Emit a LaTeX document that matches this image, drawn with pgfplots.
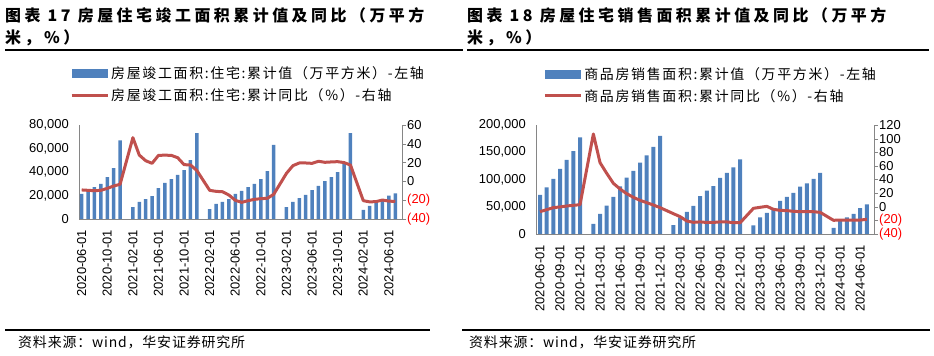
\documentclass[border=0pt]{standalone}
\usepackage{pgfplots}
\pgfplotsset{compat=1.18}
\usepackage{fontspec}
\setmainfont{Liberation Sans}
\newfontfamily\cjk{Noto Sans CJK SC}
\newfontfamily\cjkl{Noto Sans CJK SC}[LetterSpace=12]
\newfontfamily\cjks{Noto Sans CJK SC}[LetterSpace=6]
\definecolor{barblue}{RGB}{79,129,189}
\definecolor{linered}{RGB}{192,80,77}
\definecolor{axisgray}{RGB}{134,134,134}
\definecolor{negred}{RGB}{255,0,0}
\newcommand{\titlefont}{\cjk\bfseries\fontsize{16}{20}\selectfont\addfontfeatures{LetterSpace=22}}
\pgfplotsset{
  common/.style={
    scale only axis,
    axis line style={draw=axisgray,-},
    tick label style={font=\fontsize{13}{15}\selectfont},
    /pgf/number format/assume math mode=true,
    scaled y ticks=false, scaled x ticks=false,
    yticklabel style={inner sep=0pt},
  },
  barax/.style={common,
    axis x line*=bottom, axis y line*=left,
    ybar, ymin=0,
    xtick style={draw=none}, ytick style={draw=none},
    major tick length=0pt,
    xticklabel style={rotate=90,anchor=east,inner sep=0pt},
    xticklabel shift=11bp, yticklabel shift=10bp,
    legend style={draw=none, fill=none, inner sep=0pt,
      font=\cjkl\fontsize{14}{16}\selectfont, cells={anchor=west},
      row sep=4bp},
    legend cell align=left,
  },
  lineax/.style={common,
    axis x line=none, axis y line*=right,
    tick align=outside, major tick length=4bp,
    ytick style={draw=axisgray},
    yticklabel shift=1bp,
  },
  barimg/.style={legend image code/.code={\fill[barblue] (0bp,-4.5bp) rectangle (36bp,4.5bp);}},
  lineimg/.style={legend image code/.code={\draw[linered,line width=3bp] (0bp,0bp) -- (36bp,0bp);}},
}
\begin{document}
\begin{tikzpicture}
\useasboundingbox (0bp,0bp) rectangle (934bp,356bp);
% titles
\node[anchor=west,inner sep=0pt] at (5bp,341bp) {\titlefont 图表 17 房屋住宅竣工面积累计值及同比（万平方};
\node[anchor=west,inner sep=0pt] at (5bp,318bp) {\titlefont 米，\%）};
\node[anchor=west,inner sep=0pt] at (467bp,341bp) {\titlefont 图表 18 房屋住宅销售面积累计值及同比（万平方};
\node[anchor=west,inner sep=0pt] at (467bp,318bp) {\titlefont 米，\%）};
\draw[line width=1.2bp] (5bp,306bp) -- (463bp,306bp);
\draw[line width=1.2bp] (467bp,306bp) -- (929bp,306bp);
\draw[line width=1.2bp] (5bp,26bp) -- (430bp,26bp);
\draw[line width=1.2bp] (462bp,26bp) -- (930bp,26bp);
\node[anchor=west,inner sep=0pt] at (18bp,14bp) {\cjks\fontsize{14}{16}\selectfont 资料来源：wind，华安证券研究所};
\node[anchor=west,inner sep=0pt] at (469bp,14bp) {\cjks\fontsize{14}{16}\selectfont 资料来源：wind，华安证券研究所};

% ===== left panel =====
\begin{axis}[barax, at={(79bp,137bp)}, anchor=south west, width=323bp, height=94bp,
  xmin=-0.42, xmax=50.05, ymax=80000, bar width=3.5bp,
  xtick={0,4,...,48},
  xticklabels={2020-06-01,2020-10-01,2021-02-01,2021-06-01,2021-10-01,2022-02-01,2022-06-01,2022-10-01,2023-02-01,2023-06-01,2023-10-01,2024-02-01,2024-06-01},
  ytick={0,20000,40000,60000,80000},
  yticklabels={0,{20,000},{40,000},{60,000},{80,000}},
  legend style={at={(axis description cs:-0.028,1.64)}, anchor=north west},
]
\addplot[fill=barblue, draw=none, barimg] coordinates {
(0,21280) (1,24680) (2,27230) (3,29790) (4,35740) (5,43400) (6,66950)
(8,10210) (9,14470) (10,17020) (11,19570) (12,26380) (13,30640) (14,34040) (15,37450) (16,41700) (17,50210) (18,73190)
(20,8510) (21,12770) (22,14470) (23,17020) (24,21280) (25,23830) (26,27230) (27,29790) (28,34040) (29,40850) (30,62980)
(32,10210) (33,14470) (34,17870) (35,20430) (36,24680) (37,28090) (38,32340) (39,35740) (40,40000) (41,46810) (42,73190)
(44,7660) (45,11200) (46,14300) (47,16300) (48,19900) (49,21800)};
\addlegendentry{房屋竣工面积:住宅:累计值（万平方米）-左轴}
\addlegendimage{lineimg}
\addlegendentry{房屋竣工面积:住宅:累计同比（\%）-右轴}
\end{axis}
\begin{axis}[lineax, at={(79bp,137bp)}, anchor=south west, width=323bp, height=94bp,
  xmin=-0.42, xmax=50.05, ymin=-40, ymax=60,
  ytick={-40,-20,0,20,40,60},
  yticklabels={\textcolor{negred}{(40)},\textcolor{negred}{(20)},0,20,40,60},
]
\addplot[linered, line width=3bp, line join=round, mark=none] coordinates {
(0,-9.1) (1,-9.5) (2,-9.9) (3,-9.5) (4,-7.4) (5,-4.9) (6,-3.1)
(8,46.5) (9,28) (10,22) (11,19.2) (12,27.7) (13,27.9) (14,27.7) (15,25.2) (16,17.8) (17,17.5) (18,11.5)
(20,-9.5) (21,-10.6) (22,-11) (23,-14.5) (24,-20.1) (25,-22.3) (26,-20.5) (27,-19.1) (28,-18.4) (29,-18) (30,-13.8)
(32,8.6) (33,16.7) (34,19.6) (35,19.6) (36,19.2) (37,21.4) (38,20.3) (39,20.7) (40,21) (41,20) (42,17.4)
(44,-20.5) (45,-21.8) (46,-21.5) (47,-19.8) (48,-21) (49,-21.3)};
\end{axis}

% ===== right panel =====
\begin{axis}[barax, at={(536bp,122bp)}, anchor=south west, width=338bp, height=109bp,
  xmin=-0.6, xmax=50.07, ymax=200000, bar width=4bp,
  xtick={0,3,...,48},
  xticklabels={2020-06-01,2020-09-01,2020-12-01,2021-03-01,2021-06-01,2021-09-01,2021-12-01,2022-03-01,2022-06-01,2022-09-01,2022-12-01,2023-03-01,2023-06-01,2023-09-01,2023-12-01,2024-03-01,2024-06-01},
  ytick={0,50000,100000,150000,200000},
  yticklabels={0,{50,000},{100,000},{150,000},{200,000}},
  legend style={at={(axis description cs:0.021,1.545)}, anchor=north west},
]
\addplot[fill=barblue, draw=none, barimg] coordinates {
(0,71560) (1,85630) (2,100920) (3,119270) (4,135780) (5,152290) (6,177370)
(8,18350) (9,36700) (10,51990) (11,67890) (12,87460) (13,103360) (14,115600) (15,130890) (16,144340) (17,159630) (18,179820)
(20,16510) (21,30580) (22,40370) (23,51380) (24,69720) (25,79510) (26,88070) (27,102750) (28,111930) (29,122320) (30,137000)
(32,15900) (33,30580) (34,38530) (35,47700) (36,60550) (37,67890) (38,75230) (39,86850) (40,92970) (41,100920) (42,111930)
(44,11010) (45,24460) (46,30580) (47,36700) (48,47700) (49,54430)};
\addlegendentry{商品房销售面积:累计值（万平方米）-左轴}
\addlegendimage{lineimg}
\addlegendentry{商品房销售面积:累计同比（\%）-右轴}
\end{axis}
\begin{axis}[lineax, at={(536bp,122bp)}, anchor=south west, width=338bp, height=109bp,
  xmin=-0.6, xmax=50.07, ymin=-40, ymax=120,
  ytick={-40,-20,0,20,40,60,80,100,120},
  yticklabels={\textcolor{negred}{(40)},\textcolor{negred}{(20)},0,20,40,60,80,100,120},
]
\addplot[linered, line width=3bp, line join=round, mark=none] coordinates {
(0,-7.2) (1,-4.3) (2,-1.3) (3,-0.3) (4,1.1) (5,2.1) (6,3.0)
(8,106.8) (9,64.7) (10,49) (11,34.4) (12,26) (13,19.2) (14,13.8) (15,9.4) (16,6.0) (17,2.5) (18,-1.3)
(20,-10.2) (21,-14.5) (22,-20.9) (23,-22.9) (24,-22.2) (25,-23.1) (26,-23.0) (27,-22.2) (28,-22.3) (29,-23.3) (30,-23.5)
(32,-2.3) (33,-0.8) (34,0.6) (35,-3.8) (36,-5.3) (37,-5.7) (38,-6.7) (39,-7.2) (40,-7.2) (41,-7.3) (42,-8.2)
(44,-19.9) (45,-19.5) (46,-19.7) (47,-19.7) (48,-19.5) (49,-18.5)};
\end{axis}
\end{tikzpicture}
\end{document}
